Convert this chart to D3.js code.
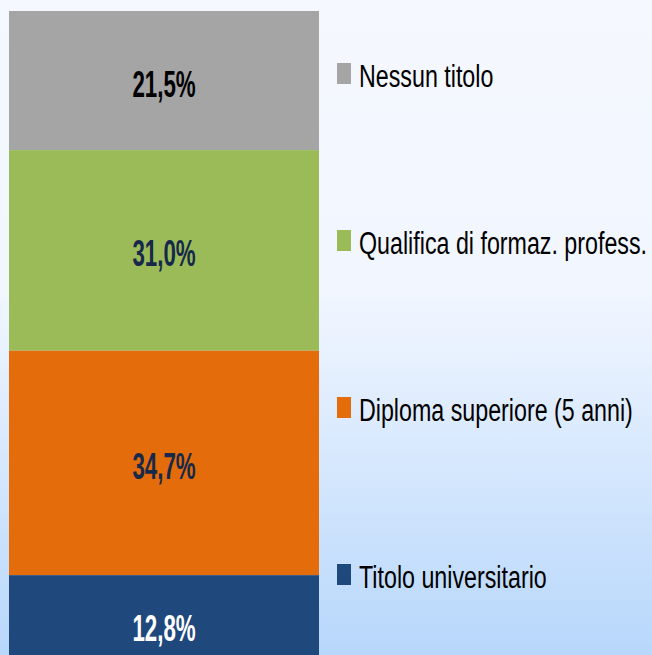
<!DOCTYPE html>
<html>
<head>
<meta charset="utf-8">
<script src="https://cdn.jsdelivr.net/npm/d3@7"></script>
<style>
  html, body { margin: 0; padding: 0; overflow: hidden; }
</style>
</head>
<body>
<div id="container"></div>
<script>
// size of the picture
var width = 652,
	height = 655;

// data, from top of the bar to bottom
var categories = ["Nessun titolo", "Qualifica di formaz. profess.", "Diploma superiore (5 anni)", "Titolo universitario"];
var values = [21.5, 31.0, 34.7, 12.8];
var labels = ["21,5%", "31,0%", "34,7%", "12,8%"];
var colors = ["#a5a5a5", "#9bbb59", "#e46c0a", "#1f497d"];
var labelColors = ["#000000", "#17294a", "#17294a", "#ffffff"];

var svg = d3.select("#container").append("svg")
	.attr("width", width)
	.attr("height", height);

// background gradient
var grad = svg.append("defs").append("linearGradient")
	.attr("id", "bg")
	.attr("x1", "0%").attr("y1", "0%")
	.attr("x2", "0%").attr("y2", "100%");
grad.append("stop").attr("offset", "0%").attr("stop-color", "#f5f8fe");
grad.append("stop").attr("offset", "45%").attr("stop-color", "#f1f6ff");
grad.append("stop").attr("offset", "100%").attr("stop-color", "#b7d7fb");

svg.append("rect")
	.attr("width", width)
	.attr("height", height)
	.style("fill", "url(#bg)");

// stack the segments: first category on top
var stacked = [];
var acc = 0;
for (var i = values.length - 1; i >= 0; i--) {
	stacked[i] = {y0: acc, y1: acc + values[i], i: i};
	acc += values[i];
}

var y = d3.scaleLinear().domain([0, 100]).range([658, 11]);
var x = d3.scaleBand().domain(["bar"]).range([9, 319]).padding(0);

svg.selectAll(".seg").data(stacked).enter()
	.append("rect")
	.attr("class", "seg")
	.attr("x", x("bar"))
	.attr("width", x.bandwidth())
	.attr("y", function(d) { return y(d.y1); })
	.attr("height", function(d) { return y(d.y0) - y(d.y1); })
	.style("fill", function(d) { return colors[d.i]; });

// value labels
svg.selectAll(".val").data(stacked).enter()
	.append("text")
	.attr("class", "val")
	.attr("transform", function(d) {
		var cy = (y(d.y0) + y(d.y1)) / 2 + 16;
		if (d.i == 3) cy = 641;
		return "translate(" + (x("bar") + x.bandwidth() / 2) + "," + cy + ") scale(0.62,1)";
	})
	.style("font-family", "Liberation Sans, Arial, sans-serif")
	.style("font-weight", "bold")
	.style("font-size", "36px")
	.style("text-anchor", "middle")
	.style("fill", function(d) { return labelColors[d.i]; })
	.text(function(d) { return labels[d.i]; });

// legend, evenly spaced
var ly = d3.scalePoint().domain(categories).range([74, 575]);

var legend = svg.selectAll(".legend").data(categories).enter()
	.append("g")
	.attr("class", "legend")
	.attr("transform", function(d) { return "translate(337," + ly(d) + ")"; });

legend.append("rect")
	.attr("x", 0)
	.attr("y", -11)
	.attr("width", 14)
	.attr("height", 21)
	.style("fill", function(d, i) { return colors[i]; });

legend.append("text")
	.attr("transform", "translate(22,13) scale(0.75,1)")
	.style("font-family", "Liberation Sans, Arial, sans-serif")
	.style("font-size", "31px")
	.style("fill", "#000")
	.text(function(d) { return d; });
</script>
</body>
</html>
